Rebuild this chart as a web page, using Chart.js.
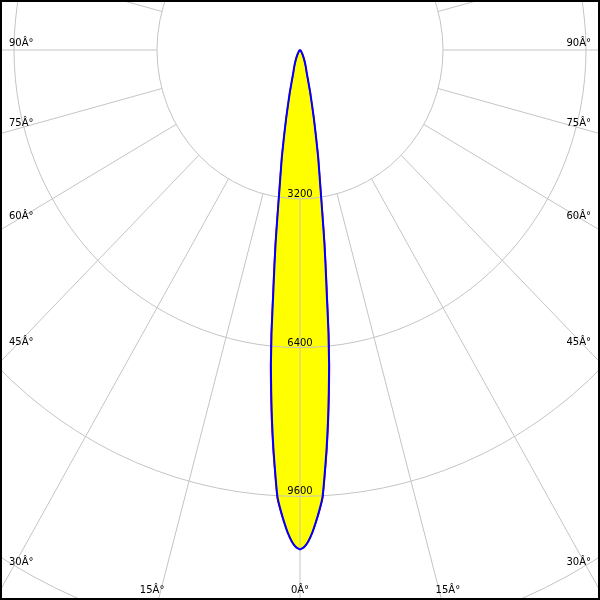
<!DOCTYPE html>
<html>
<head>
<meta charset="utf-8">
<script src="https://cdn.jsdelivr.net/npm/chart.js@4/dist/chart.umd.min.js"></script>
<style>
html,body{margin:0;padding:0;background:#fff;}
canvas{display:block;}
</style>
</head>
<body>
<canvas id="c" width="600" height="600"></canvas>
<script>
// ---- data ----
const angles = [0, 0.5, 1, 1.5, 2, 2.5, 3, 3.5, 4, 4.5, 5, 5.5, 6, 6.5, 7, 7.5, 8, 9, 10, 11, 12, 14, 17, 20, 24, 30, 40, 50, 60, 75, 90];
const planeBlue = [10740, 10690, 10570, 10390, 10160, 9910, 9630, 9100, 8560, 7990, 7390, 6790, 6080, 5300, 4700, 4180, 3640, 2850, 2340, 1840, 1470, 950, 516, 370, 235, 120, 40, 15, 5, 1, 0];
const planeRed  = [10740, 10690, 10570, 10395, 10170, 9930, 9660, 9140, 8620, 8060, 7470, 6880, 6170, 5390, 4780, 4240, 3690, 2880, 2360, 1850, 1475, 952, 516, 370, 235, 120, 40, 15, 5, 1, 0];
const ringValues = [3200, 6400, 9600, 12800];
const ringLabels = ['3200', '6400', '9600'];
const angleTicks = [0, 15, 30, 45, 60, 75, 90];
const angleTickLabels = ['0Â°', '15Â°', '30Â°', '45Â°', '60Â°', '75Â°', '90Â°'];

function lobe(values) {
  const pts = [];
  for (let i = angles.length - 1; i >= 0; i--) {
    const a = angles[i] * Math.PI / 180;
    pts.push({x: -values[i] * Math.sin(a), y: -values[i] * Math.cos(a)});
  }
  for (let i = 1; i < angles.length; i++) {
    const a = angles[i] * Math.PI / 180;
    pts.push({x: values[i] * Math.sin(a), y: -values[i] * Math.cos(a)});
  }
  return pts;
}

const UX = 3200 / 143;   // units per pixel horizontally
const UY = 3200 / 148.8; // units per pixel vertically

const polarGrid = {
  id: 'polarGrid',
  afterDatasetDraw(chart, args) {
    if (chart.data.datasets[args.index].label !== 'fill') return;
    const ctx = chart.ctx;
    const xs = chart.scales.x, ys = chart.scales.y;
    const cx = xs.getPixelForValue(0), cy = ys.getPixelForValue(0);
    ctx.save();
    ctx.strokeStyle = '#c4c4c4';
    ctx.lineWidth = 1;
    ringValues.forEach(v => {
      const rx = xs.getPixelForValue(v) - cx;
      const ry = ys.getPixelForValue(-v) - cy;
      ctx.beginPath();
      ctx.ellipse(cx, cy, rx, ry, 0, 0, Math.PI * 2);
      ctx.stroke();
    });
    const inner = ringValues[0], outer = 30000;
    for (let d = 0; d < 360; d += 15) {
      const a = d * Math.PI / 180;
      const sx = Math.sin(a), sy = Math.cos(a);
      ctx.beginPath();
      ctx.moveTo(xs.getPixelForValue(inner * sx), ys.getPixelForValue(-inner * sy));
      ctx.lineTo(xs.getPixelForValue(outer * sx), ys.getPixelForValue(-outer * sy));
      ctx.stroke();
    }
    ctx.fillStyle = '#000';
    ctx.font = '10px "DejaVu Sans"';
    ctx.textAlign = 'center';
    ctx.textBaseline = 'alphabetic';
    ringLabels.forEach((t, i) => {
      ctx.fillText(t, cx, ys.getPixelForValue(-ringValues[i]) - 2);
    });
    const W = chart.width, H = chart.height;
    angleTicks.forEach((deg, i) => {
      const a = deg * Math.PI / 180;
      const dxp = Math.sin(a) / UX, dyp = Math.cos(a) / UY;
      const sides = deg === 0 ? [0] : [-1, 1];
      sides.forEach(s => {
        const tx = dxp > 1e-9 ? (cx - 12) / dxp : Infinity;
        const ty = dyp > 1e-9 ? (H - 3 - cy) / dyp : Infinity;
        if (tx < ty) {
          const y = cy + tx * dyp;
          ctx.textAlign = s < 0 ? 'left' : 'right';
          ctx.fillText(angleTickLabels[i], s < 0 ? 9 : W - 9, y - 4.5);
        } else {
          const x = cx + s * ty * dxp;
          ctx.textAlign = 'center';
          ctx.fillText(angleTickLabels[i], x + s * 7, H - 7);
        }
      });
    });
    ctx.restore();
  },
  afterDraw(chart) {
    const ctx = chart.ctx;
    ctx.save();
    ctx.strokeStyle = '#000';
    ctx.lineWidth = 2;
    ctx.strokeRect(1, 1, chart.width - 2, chart.height - 2);
    ctx.restore();
  }
};

new Chart(document.getElementById('c'), {
  type: 'scatter',
  data: {
    datasets: [
      {label: 'blue', data: lobe(planeBlue), showLine: true, pointRadius: 0, borderColor: '#0000ff', borderWidth: 2, tension: 0.15, fill: false, order: 1},
      {label: 'red', data: lobe(planeRed), showLine: true, pointRadius: 0, borderColor: '#ff0000', borderWidth: 1.5, tension: 0.15, fill: false, order: 2},
      {label: 'fill', data: lobe(planeBlue), showLine: true, pointRadius: 0, borderWidth: 0, borderColor: 'rgba(0,0,0,0)', backgroundColor: '#ffff00', tension: 0.15, fill: 'shape', order: 3}
    ]
  },
  options: {
    responsive: false,
    devicePixelRatio: 1,
    animation: false,
    layout: {padding: 0},
    plugins: {legend: {display: false}, tooltip: {enabled: false}},
    scales: {
      x: {type: 'linear', display: false, min: -300 * UX, max: 300 * UX},
      y: {type: 'linear', display: false, min: -550 * UY, max: 50 * UY}
    }
  },
  plugins: [polarGrid]
});
</script>
</body>
</html>
